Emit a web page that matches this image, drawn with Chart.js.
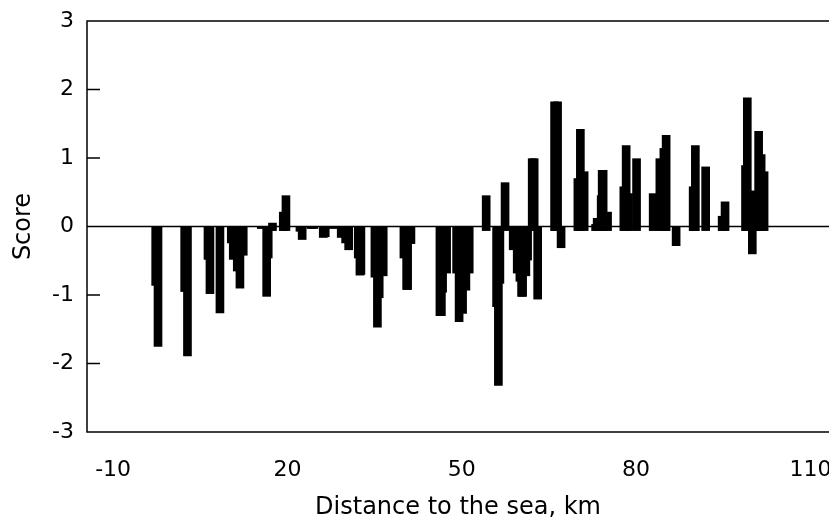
<!DOCTYPE html>
<html>
<head>
<meta charset="utf-8">
<script src="https://cdn.jsdelivr.net/npm/chart.js@4.4.1/dist/chart.umd.min.js"></script>
<style>
  html, body { margin: 0; padding: 0; background: #fff; }
</style>
</head>
<body>
<canvas id="scoreChart" width="829" height="522"></canvas>
<script>
// distance to the sea (km) of each bar
const distanceKm = [
  -2.68, -2.28, 2.31, 2.79, 6.32, 6.66, 8.38,
  10.33, 10.67, 11.36, 11.82, 12.39,
  15.49, 16.42, 16.69, 17.42, 19.28, 19.74,
  22.15, 22.53, 24.04, 24.56, 26.16, 26.50, 27.83,
  29.25, 30.01, 30.53, 32.18, 32.47, 32.64,
  35.05, 35.48, 35.79, 36.48,
  40.04, 40.51, 40.68, 41.25,
  46.24, 46.49, 46.70, 47.39,
  49.11, 49.54, 50.14, 50.71, 51.28,
  54.20, 55.99, 56.30, 56.56, 57.45,
  58.85, 59.54, 60.00, 60.29, 60.47, 61.03, 61.33,
  62.12, 62.46, 63.06,
  65.97, 66.49, 67.09,
  69.98, 70.41, 71.06,
  73.03, 73.30, 73.99, 74.16, 74.33, 75.09,
  77.89, 78.29, 78.70, 80.08,
  82.94, 84.09, 84.78, 85.17, 86.89,
  89.82, 90.20, 91.97, 94.81, 95.31,
  98.83, 99.14, 99.75, 100.00, 101.09, 101.52, 102.03
];
const score = [
  -0.86, -1.75, -0.95, -1.89, -0.48, -0.98, -1.26,
  -0.24, -0.48, -0.65, -0.90, -0.42,
  -0.03, -1.02, -0.46, 0.05, 0.21, 0.45,
  -0.07, -0.19, -0.03, -0.03, -0.16, -0.15, -0.03,
  -0.16, -0.24, -0.34, -0.46, -0.71, -0.70,
  -0.74, -1.47, -1.04, -0.72,
  -0.46, -0.92, -0.92, -0.25,
  -1.30, -1.30, -0.96, -0.68,
  -0.68, -1.39, -1.27, -0.93, -0.68,
  0.45, -1.17, -2.32, -0.83, 0.64,
  -0.34, -0.68, -0.80, -1.02, -1.02, -0.72, -0.49,
  0.99, 0.99, -1.06,
  1.82, 1.82, -0.31,
  0.70, 1.42, 0.80,
  0.03, 0.12, 0.45, 0.82, 0.82, 0.21,
  0.58, 1.18, 0.48, 0.99,
  0.48, 0.99, 1.14, 1.33, -0.28,
  0.58, 1.18, 0.87, 0.15, 0.36,
  0.89, 1.88, 0.52, -0.40, 1.39, 1.05, 0.80
];
const xTicks = [-10, 20, 50, 80, 110];
const yTicks = [-3, -2, -1, 0, 1, 2, 3];

// positive bars in the figure reach a hair below the zero line
const posFoot = -0.06;

const bars = distanceKm.map((d, i) => ({
  x: d,
  y: score[i] > 0 ? [posFoot, score[i]] : score[i]
}));

// open box (no right edge), zero line and inward y ticks
const framePlugin = {
  id: 'frame',
  afterDatasetsDraw(chart) {
    const { ctx, chartArea: a } = chart;
    const y = chart.scales.y;
    const right = chart.width;
    ctx.save();
    ctx.strokeStyle = '#000';
    ctx.lineWidth = 1.5;
    ctx.beginPath();
    ctx.moveTo(right, a.top);
    ctx.lineTo(a.left, a.top);
    ctx.lineTo(a.left, a.bottom);
    ctx.lineTo(right, a.bottom);
    const y0 = y.getPixelForValue(0);
    ctx.moveTo(a.left, y0);
    ctx.lineTo(right, y0);
    yTicks.forEach(v => {
      const py = y.getPixelForValue(v);
      ctx.moveTo(a.left, py);
      ctx.lineTo(a.left + 13, py);
    });
    ctx.stroke();
    ctx.restore();
  }
};

Chart.defaults.color = '#000';
Chart.defaults.font.family = '"DejaVu Sans", sans-serif';

new Chart(document.getElementById('scoreChart'), {
  type: 'bar',
  data: {
    datasets: [{
      label: 'Score',
      data: bars,
      backgroundColor: '#000',
      borderWidth: 0,
      barThickness: 8
    }]
  },
  options: {
    responsive: false,
    animation: false,
    layout: { padding: { left: 0, right: 0, top: 21, bottom: 0 } },
    plugins: {
      legend: { display: false },
      tooltip: { enabled: false }
    },
    scales: {
      x: {
        type: 'linear',
        offset: false,
        min: -14.5,
        max: 113.2,
        afterBuildTicks: s => { s.ticks = xTicks.map(v => ({ value: v })); },
        afterFit: s => { s.height = 90; s.paddingLeft = 0; s.paddingRight = 0; },
        grid: { display: false, drawTicks: false },
        border: { display: false },
        ticks: { font: { size: 22 }, padding: 25, maxRotation: 0, autoSkip: false },
        title: {
          display: true,
          text: 'Distance to the sea, km',
          font: { size: 24 },
          padding: { top: 4, bottom: 0 }
        }
      },
      y: {
        min: -3,
        max: 3,
        afterBuildTicks: s => { s.ticks = yTicks.map(v => ({ value: v })); },
        afterFit: s => { s.width = 87; s.paddingTop = 0; s.paddingBottom = 0; },
        grid: { display: false, drawTicks: false },
        border: { display: false },
        ticks: { font: { size: 22 }, padding: 13 },
        title: {
          display: true,
          text: 'Score',
          font: { size: 24 },
          padding: { top: 9, bottom: 0 }
        }
      }
    }
  },
  plugins: [framePlugin]
});
</script>
</body>
</html>
